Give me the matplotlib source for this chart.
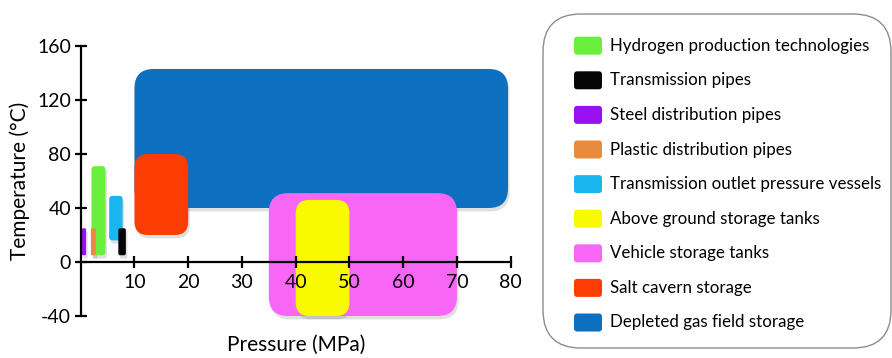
import matplotlib.pyplot as plt
from matplotlib.patches import FancyBboxPatch

# storage / production windows: pressure (MPa) and temperature (degC) ranges
names = ["Hydrogen production technologies", "Transmission pipes",
         "Steel distribution pipes", "Plastic distribution pipes",
         "Transmission outlet pressure vessels", "Above ground storage tanks",
         "Vehicle storage tanks", "Salt cavern storage", "Depleted gas field storage"]
colors = ["#6af03c", "#050505", "#9a10f0", "#ea8a3c", "#1ab6ef",
          "#f9f900", "#f866f5", "#fc3d03", "#0d6fbf"]
p_min = [2.0, 7.0, 0.2, 1.9, 5.3, 40, 35, 10, 10]
p_max = [4.6, 8.4, 1.0, 2.8, 7.8, 50, 70, 20, 79.5]
t_min = [5, 5, 5, 5, 16, -40, -40, 20, 40]
t_max = [71, 25, 25, 25, 49, 46, 51, 80, 143]

# drawing order (back to front)
order = [8, 7, 6, 5, 0, 3, 2, 4, 1]

xticks = [10, 20, 30, 40, 50, 60, 70, 80]
yticks = [-40, 0, 40, 80, 120, 160]

plt.rcParams['font.family'] = ['Lato', 'DejaVu Sans']
plt.rcParams['axes.unicode_minus'] = False

fig = plt.figure(figsize=(8.92, 3.58), dpi=100)
ax = fig.add_axes([80.7 / 892, 1 - 316 / 358, 430 / 892, 270 / 358])
ax.set_xlim(0, 80)
ax.set_ylim(-40, 160)

# px per data unit, used so corner rounding looks round
aspect = (430 / 80) / (270 / 200)

for i in order:
    w = p_max[i] - p_min[i]
    h = t_max[i] - t_min[i]
    r = min(3.6, w * 0.25, h / aspect * 0.25)
    r = max(r, 0.25)
    ax.add_patch(FancyBboxPatch((p_min[i] + 0.3, t_min[i] - 2.5), w, h,
                                boxstyle=f"round,pad=0,rounding_size={r}",
                                mutation_aspect=aspect, fc="#000000", alpha=0.12,
                                ec="none", zorder=0.5, clip_on=False))
    ax.add_patch(FancyBboxPatch((p_min[i], t_min[i]), w, h,
                                boxstyle=f"round,pad=0,rounding_size={r}",
                                mutation_aspect=aspect, fc=colors[i], ec="none",
                                zorder=1, clip_on=False))

for s in ["top", "right"]:
    ax.spines[s].set_visible(False)
ax.spines["left"].set_position(("data", 0))
ax.spines["bottom"].set_position(("data", 0))
for s in ["left", "bottom"]:
    ax.spines[s].set_linewidth(1.6)
ax.set_xticks(xticks)
ax.set_yticks(yticks)
ax.tick_params(direction="inout", length=8, width=1.6, labelsize=14)
ax.tick_params(axis="x", pad=5)
ax.tick_params(axis="y", pad=3)
ax.patch.set_visible(False)

fig.text(296 / 892, 1 - 345 / 358, "Pressure (MPa)", ha="center", va="center", fontsize=15)
fig.text(20 / 892, 1 - 181 / 358, "Temperature (\u00b0C)", ha="center", va="center",
         rotation=90, fontsize=15)

# legend drawn by hand in pixel coordinates
lg = fig.add_axes([540 / 892, 0, 352 / 892, 1])
lg.set_xlim(540, 892)
lg.set_ylim(358, 0)
lg.axis("off")
lg.add_patch(FancyBboxPatch((543, 14), 348, 334, boxstyle="round,pad=0,rounding_size=38",
                            fc="white", ec="#8c8c8c", lw=1.0))
for k, (n, c) in enumerate(zip(names, colors)):
    yc = 45.7 + k * 34.6
    lg.add_patch(FancyBboxPatch((574, yc - 9), 28, 18, boxstyle="round,pad=0,rounding_size=3",
                                fc=c, ec="none"))
    lg.text(610, yc, n, ha="left", va="center", fontsize=12.2)

fig.savefig("out.png", dpi=100)
